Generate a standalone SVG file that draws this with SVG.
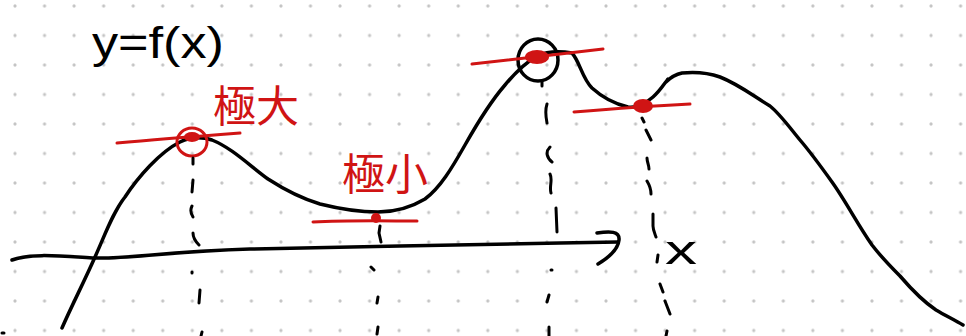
<svg xmlns="http://www.w3.org/2000/svg" width="966" height="336" viewBox="0 0 966 336">
  <defs>
    <pattern id="dots" patternUnits="userSpaceOnUse" x="0.225" y="-8.75" width="29.55" height="29.5">
      <circle cx="14.775" cy="14.75" r="1.6" fill="#c4c4c4"/>
    </pattern>
  </defs>
  <style>
    .ink { fill: none; stroke: #000; stroke-width: 3.5; stroke-linecap: round; stroke-linejoin: round; }
    .dash { fill: none; stroke: #000; stroke-width: 3; stroke-linecap: round; }
    .red { fill: none; stroke: #d01414; stroke-width: 3; stroke-linecap: round; stroke-linejoin: round; }
    .redfill { fill: #d01414; stroke: none; }
    .cjk { font-family: "Noto Sans CJK JP", "Noto Sans CJK SC", sans-serif; fill: #d01414; font-size: 43px; }
    .hand { font-family: "Liberation Sans", sans-serif; fill: #000; }
  </style>
  <rect width="966" height="336" fill="#ffffff"/>
  <rect width="966" height="336" fill="url(#dots)"/>

  <g id="axis">
    <path class="ink" d="M12,260 C30,253 60,256 95,258 C130,259 160,252 250,249 L400,246 L560,243 L618,242"/>
    <path class="ink" d="M597,233 C610,231 620,231 619,240 C618,250 608,258 598,264"/>
    <text class="hand" x="665" y="264" font-size="40" textLength="32" lengthAdjust="spacingAndGlyphs">x</text>
  </g>

  <g id="curve">
    <path class="ink" d="M62,328 C72,305 84,282 95,257 C105,235 113,212 125,197 C138,177 160,152 180,142 C190,137 200,136 212,140 C232,148 250,166 268,179 C285,190 300,198 320,204 C340,209 360,212 378,212 C395,212 410,208 425,199 C440,188 452,168 465,145 C478,122 492,100 505,85 C515,73 525,63 537,56 C548,51 560,51 572,53 C580,62 582,78 592,88 C603,98 615,104 628,107 C636,108 645,104 653,97 C660,91 664,84 668,79 L666,82 C672,76 677,74 682,73 C692,72 706,72 720,77 C738,84 752,95 770,106 C780,114 790,128 800,140 C812,154 822,168 832,182 C845,200 858,225 872,245 C882,258 890,266 900,276 C912,290 924,302 936,310 C946,316 955,320 963,325"/>
    <ellipse class="ink" cx="538" cy="60" rx="20" ry="21"/>
  </g>

  <g id="label-fx">
    <text class="hand" x="92" y="58" font-size="44" textLength="132" lengthAdjust="spacingAndGlyphs">y=f(x)</text>
  </g>

  <g id="max-left">
    <path class="red" d="M117,143 C160,139 200,136 240,133"/>
    <ellipse class="red" cx="192" cy="142" rx="15" ry="14"/>
    <ellipse class="redfill" cx="192" cy="137" rx="8" ry="5"/>
    <text class="cjk" x="213" y="122">極大</text>
  </g>

  <g id="min-mid">
    <path class="red" d="M313,222 C350,220 390,221 417,221"/>
    <circle class="redfill" cx="376" cy="218" r="5"/>
    <text class="cjk" x="342" y="190">極小</text>
  </g>

  <g id="max-top">
    <path class="red" d="M472,64 C510,60 560,54 603,49"/>
    <ellipse class="redfill" cx="537" cy="57" rx="12" ry="7"/>
  </g>

  <g id="min-right">
    <path class="red" d="M574,112 C610,109 650,106 690,104"/>
    <ellipse class="redfill" cx="643" cy="106" rx="10" ry="7"/>
  </g>

  <g id="dashed-lines">
    <path class="dash" d="M193,158 L193,164 M193,180 L192,192 M192,206 C190,210 191,214 193,217 M193,233 C193,238 196,242 199,245 M192,272 L192,273 M200,290 L199,303 M202,332 L201,336"/>
    <path class="dash" d="M380,226 L379,233 L381,242 M371,267 L374,270 M378,297 L377,303 M378,327 L377,334"/>
    <path class="dash" d="M542,82 L542,86 M547,104 C545,110 546,118 547,123 M550,147 C545,152 547,158 552,162 M550,174 C553,180 549,186 551,193 M556,208 L557,232 M551,270 L552,270 M549,295 L547,302 M549,327 L549,336"/>
    <path class="dash" d="M642,118 L644,122 M646,130 L651,140 M647,158 C647,162 649,165 649,169 M647,181 C650,186 651,190 651,194 M653,214 L653,226 C653,230 655,234 656,237 M658,255 L657,262 M660,284 L663,292 M665,301 L670,314 M667,331 L666,336"/>
    <path class="dash" d="M2,333 L4,333"/>
  </g>
</svg>
